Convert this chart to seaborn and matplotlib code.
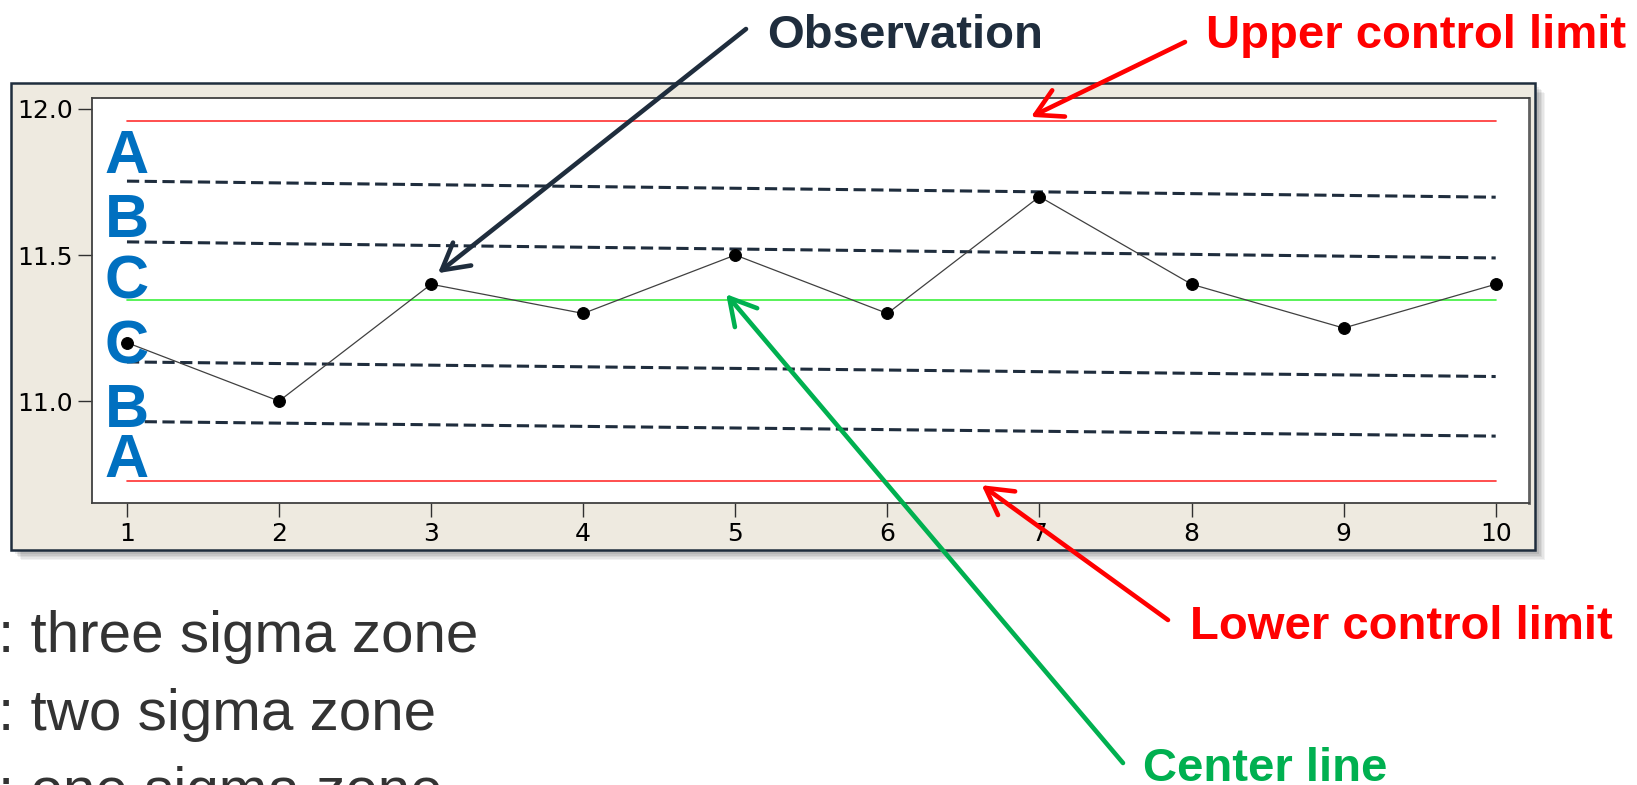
import matplotlib
matplotlib.use("Agg")
import matplotlib.pyplot as plt
import seaborn as sns
import pandas as pd
from matplotlib.patches import Rectangle

# ---------------- data ----------------
samples = [1, 2, 3, 4, 5, 6, 7, 8, 9, 10]
observations = [11.2, 11.0, 11.4, 11.3, 11.5, 11.3, 11.7, 11.4, 11.25, 11.4]
ucl = 11.96
center = 11.345
lcl = 10.726
# dashed zone boundaries (value at sample 1, value at sample 10)
zone_start = [11.753, 11.545, 11.134, 10.93]
zone_end = [11.698, 11.49, 11.084, 10.88]
zone_letters = ["A", "B", "C", "C", "B", "A"]
zone_letter_y = [11.782, 11.563, 11.352, 11.13, 10.912, 10.741]
y_ticks = [11.0, 11.5, 12.0]
legend_keys = ["A", "B", "C"]
legend_desc = ["three sigma zone", "two sigma zone", "one sigma zone"]

W, H = 1637, 785
sns.set_style("white")
plt.rcParams["font.family"] = ["DejaVu Sans"]

fig = plt.figure(figsize=(W / 100, H / 100), dpi=100)
fig.patch.set_facecolor("white")


def fx(x):
    return x / W


def fy(y):
    return 1 - y / H


# ---- outer Minitab-like panel with shadow ----
for i, a in enumerate([0.05, 0.05, 0.06, 0.07, 0.08]):
    off = 10 - i * 1.5
    fig.patches.append(Rectangle((fx(11 + off), fy(550 + off)), fx(1535 - 11), (550 - 83) / H,
                                 transform=fig.transFigure, facecolor="black", alpha=a,
                                 edgecolor="none", zorder=0))
fig.patches.append(Rectangle((fx(11), fy(550)), fx(1535 - 11), (550 - 83) / H,
                             transform=fig.transFigure, facecolor="#EEEAE0",
                             edgecolor="#1F2D3D", linewidth=1.8, zorder=1))

ax = fig.add_axes([fx(92), fy(503), fx(1529 - 92), (503 - 98.3) / H], zorder=2)
ax.set_facecolor("white")

# control limits and center line
limits = pd.DataFrame({"x": [samples[0], samples[-1]]})
sns.lineplot(x=limits["x"], y=[ucl, ucl], color="#FF3030", lw=1.2, ax=ax)
sns.lineplot(x=limits["x"], y=[lcl, lcl], color="#FF3030", lw=1.2, ax=ax)
sns.lineplot(x=limits["x"], y=[center, center], color="#3CF03C", lw=1.2, ax=ax)

# zone boundaries
for s, e in zip(zone_start, zone_end):
    sns.lineplot(x=limits["x"], y=[s, e], color="#1F2D3D", lw=2.2, ax=ax)
    ax.lines[-1].set_dashes((4, 1.8))

# observations
df = pd.DataFrame({"sample": samples, "value": observations})
sns.lineplot(data=df, x="sample", y="value", color="#404040", lw=0.9, marker="o",
             markersize=8.5, markerfacecolor="black", markeredgecolor="black", ax=ax)

ax.set_xlim(0.77, 10.219)
ax.set_ylim(10.651, 12.0366)
ax.set_xticks(samples)
ax.set_xticklabels([str(s) for s in samples])
ax.set_yticks(y_ticks)
ax.set_yticklabels([f"{v:.1f}" for v in y_ticks])
ax.set_xlabel("")
ax.set_ylabel("")
ax.tick_params(axis="both", direction="out", length=10, width=1, color="#303030",
               labelsize=18, labelcolor="black", pad=4, bottom=True, left=True)
for sp in ax.spines.values():
    sp.set_color("#404040")
    sp.set_linewidth(1.3)
ax.spines["right"].set_linewidth(2.0)
ax.spines["right"].set_color("#606060")

# zone letters
for lab, yv in zip(zone_letters, zone_letter_y):
    ax.text(samples[0], yv, lab, ha="center", va="baseline", fontsize=44,
            fontweight="bold", color="#0070C0", family="Liberation Sans", zorder=10)

# ---- annotations ----
ann_font = dict(fontsize=34, fontweight="bold", family="Liberation Sans", va="baseline")
fig.text(fx(767), fy(48), "Observation", color="#1F2D3D", **ann_font)
fig.text(fx(1206), fy(48), "Upper control limit", color="#FF0000", **ann_font)
fig.text(fx(1190), fy(639), "Lower control limit", color="#FF0000", **ann_font)
fig.text(fx(1143), fy(781), "Center line", color="#00B050", **ann_font)


def arrow(tail_px, head_data, color):
    ax.annotate("", xy=head_data, xycoords="data",
                xytext=(fx(tail_px[0]), fy(tail_px[1])), textcoords="figure fraction",
                arrowprops=dict(arrowstyle="->,head_length=0.75,head_width=0.42",
                                mutation_scale=25, color=color, lw=3.3,
                                shrinkA=0, shrinkB=0),
                annotation_clip=False, zorder=12)


arrow((746, 29), (3.045, 11.438), "#1F2D3D")
arrow((1185, 42), (6.944, 11.973), "#FF0000")
arrow((1168, 620), (6.62, 10.712), "#FF0000")
arrow((1123, 763), (4.94, 11.366), "#00B050")

# ---- bottom zone legend (key letters cropped off the left edge as in the reference) ----
for i, (key, desc) in enumerate(zip(legend_keys, legend_desc)):
    yb = fy(652 + 78 * i)
    fig.text(fx(-2), yb, key, ha="right", va="baseline", fontsize=42,
             color="#333333", family="Liberation Sans")
    fig.text(fx(-2), yb, ": " + desc, ha="left", va="baseline", fontsize=42,
             color="#333333", family="Liberation Sans")

fig.savefig("out.png", dpi=100)
